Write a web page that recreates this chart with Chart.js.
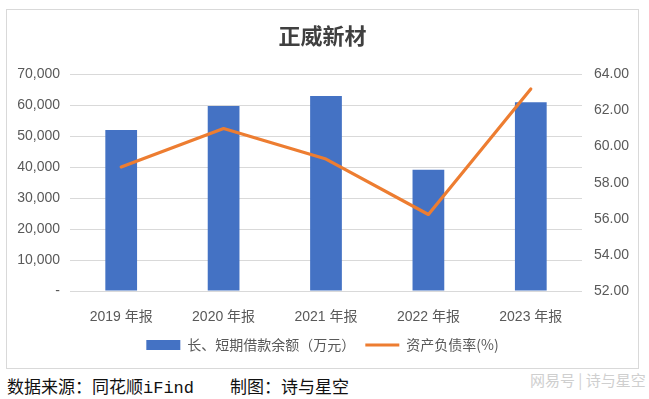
<!DOCTYPE html>
<html>
<head>
<meta charset="utf-8">
<script src="https://cdn.jsdelivr.net/npm/chart.js@4"></script>
<style>
  body { margin: 0; background: #fff; width: 649px; height: 399px; position: relative; overflow: hidden; }
  #box { position: absolute; left: 6px; top: 9px; width: 631px; height: 358px; border: 1px solid #d9d9d9; }
  #box canvas { display: block; }
  .foot { position: absolute; top: 373px; font-size: 17px; color: #111; font-family: "Noto Sans CJK SC", sans-serif; white-space: nowrap; }
  .mono { font-family: "Liberation Mono", monospace; }
  #mark { position: absolute; left: 530px; top: 369px; font-size: 15px; color: #cfcfcf; font-family: "Noto Sans CJK SC", sans-serif; white-space: nowrap; }
</style>
</head>
<body>
<div id="box"><canvas id="myChart" width="631" height="358"></canvas></div>
<div class="foot" style="left:7px">数据来源：同花顺<span class="mono">iFind</span></div>
<div class="foot" style="left:230px">制图：诗与星空</div>
<div id="mark">网易号 | 诗与星空</div>
<script>
// data
const years = ['2019 年报', '2020 年报', '2021 年报', '2022 年报', '2023 年报'];
const loans = [52000, 59800, 63000, 39200, 61000];
const debtRatio = [58.87, 61.0, 59.31, 56.24, 63.19];
const leftTicks = [0, 10000, 20000, 30000, 40000, 50000, 60000, 70000];
const rightTicks = [52, 54, 56, 58, 60, 62, 64];

const tickFont = { family: "'Liberation Sans', 'Noto Sans CJK SC', sans-serif", size: 14 };
const gray = '#595959';

var ctx = document.getElementById('myChart').getContext('2d');
var myChart = new Chart(ctx, {
  data: {
    labels: years,
    datasets: [{
      type: 'line',
      label: '资产负债率(%)',
      data: debtRatio,
      yAxisID: 'y1',
      borderColor: '#ED7D31',
      backgroundColor: '#ED7D31',
      borderWidth: 3.2,
      borderCapStyle: 'round',
      borderJoinStyle: 'round',
      pointRadius: 0,
      pointStyle: 'line',
      tension: 0
    }, {
      type: 'bar',
      label: '长、短期借款余额（万元）',
      data: loans,
      yAxisID: 'y',
      backgroundColor: '#4472C4',
      borderWidth: 0,
      pointStyle: 'rect',
      barPercentage: 0.31,
      categoryPercentage: 1
    }]
  },
  options: {
    responsive: false,
    animation: false,
    layout: { padding: { left: 0, right: 0, top: 0, bottom: 6 } },
    plugins: {
      title: {
        display: true,
        text: '正威新材',
        color: '#404040',
        font: { family: "'Noto Sans CJK SC', sans-serif", size: 22, weight: 'bold' },
        padding: { top: 12, bottom: 26 }
      },
      legend: {
        position: 'bottom',
        labels: {
          usePointStyle: true,
          pointStyleWidth: 34,
          boxHeight: 10,
          color: gray,
          font: { family: "'Noto Sans CJK SC', sans-serif", size: 14 },
          padding: 10,
          sort: (a, b) => b.datasetIndex - a.datasetIndex
        }
      },
      tooltip: { enabled: false }
    },
    scales: {
      x: {
        grid: { display: false },
        border: { display: false },
        ticks: { color: gray, font: tickFont, padding: 10 },
        afterFit: (s) => { s.height = 37; }
      },
      y: {
        position: 'left',
        min: 0,
        max: 70000,
        afterBuildTicks: (s) => { s.ticks = leftTicks.map(v => ({ value: v })); },
        grid: { color: '#d9d9d9', drawTicks: false },
        border: { display: false },
        ticks: {
          color: gray,
          font: tickFont,
          padding: 10,
          callback: (v) => v === 0 ? '-' : v.toLocaleString('en-US')
        },
        afterFit: (s) => { s.width = 63; }
      },
      y1: {
        position: 'right',
        min: 52,
        max: 64,
        afterBuildTicks: (s) => { s.ticks = rightTicks.map(v => ({ value: v })); },
        grid: { display: false, drawTicks: false },
        border: { display: false },
        ticks: {
          color: gray,
          font: tickFont,
          padding: 12,
          callback: (v) => v.toFixed(2)
        },
        afterFit: (s) => { s.width = 56; }
      }
    }
  }
});
</script>
</body>
</html>
